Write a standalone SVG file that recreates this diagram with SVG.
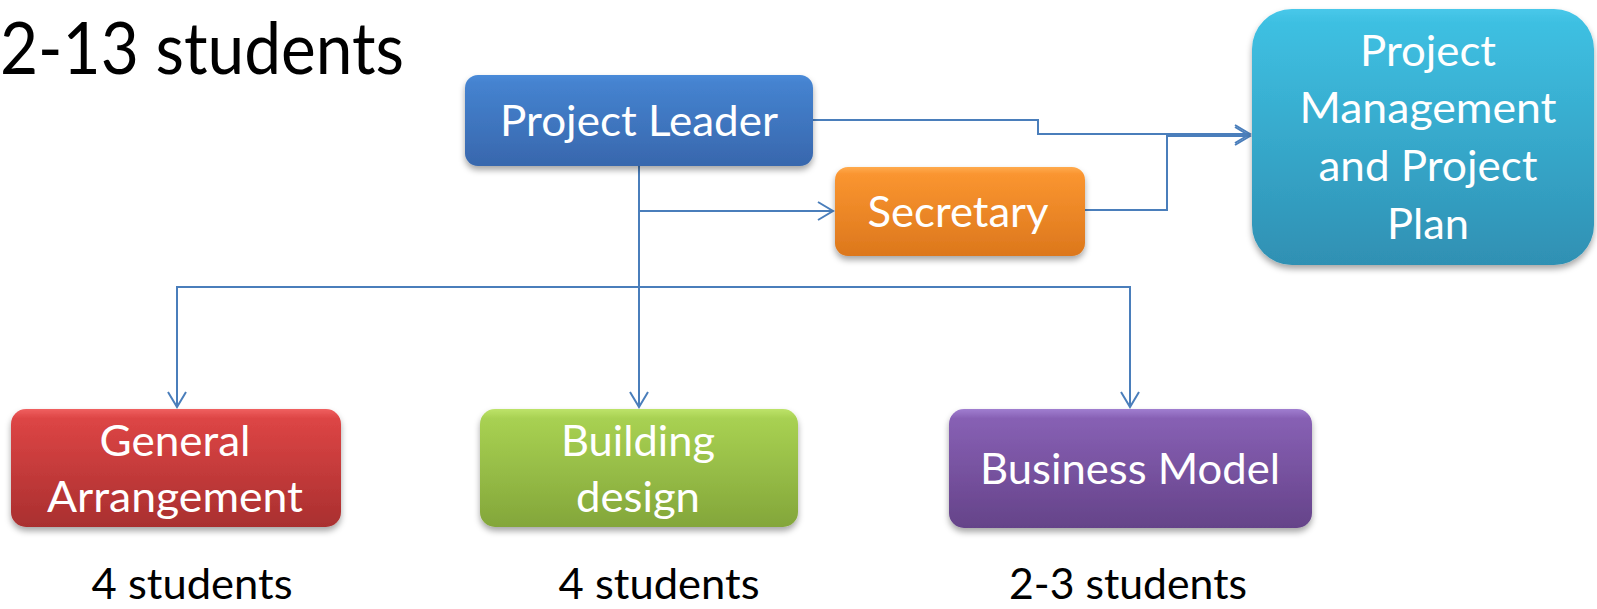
<svg xmlns="http://www.w3.org/2000/svg" width="1597" height="609" viewBox="0 0 1597 609">
<style>
.lbl{font-family:Lato,"Liberation Sans",sans-serif;font-size:42px;fill:#ffffff;text-anchor:middle}
.blk{font-family:Lato,"Liberation Sans",sans-serif;font-size:43px;fill:#000000;text-anchor:middle}
.title{font-family:Lato,"Liberation Sans",sans-serif;font-size:72px;fill:#000000}
.conn{fill:none;stroke:#4a7ebb;stroke-width:2}
</style>
<defs>
<linearGradient id="gBlue" x1="0" y1="0" x2="0" y2="1"><stop offset="0" stop-color="#4a8bd9"/><stop offset="0.08" stop-color="#4583d0"/><stop offset="1" stop-color="#3867ad"/></linearGradient>
<linearGradient id="gOrange" x1="0" y1="0" x2="0" y2="1"><stop offset="0" stop-color="#ffab4e"/><stop offset="0.08" stop-color="#fa9530"/><stop offset="1" stop-color="#dc771c"/></linearGradient>
<linearGradient id="gCyan" x1="0" y1="0" x2="0" y2="1"><stop offset="0" stop-color="#48c8ea"/><stop offset="0.05" stop-color="#3ec0e2"/><stop offset="1" stop-color="#2f90b3"/></linearGradient>
<linearGradient id="gRed" x1="0" y1="0" x2="0" y2="1"><stop offset="0" stop-color="#f06060"/><stop offset="0.08" stop-color="#dd4545"/><stop offset="1" stop-color="#a92f2f"/></linearGradient>
<linearGradient id="gGreen" x1="0" y1="0" x2="0" y2="1"><stop offset="0" stop-color="#bde36a"/><stop offset="0.08" stop-color="#a8d152"/><stop offset="1" stop-color="#83a63a"/></linearGradient>
<linearGradient id="gPurple" x1="0" y1="0" x2="0" y2="1"><stop offset="0" stop-color="#a07ed0"/><stop offset="0.08" stop-color="#8760b4"/><stop offset="1" stop-color="#654389"/></linearGradient>
<filter id="sh" x="-10%" y="-10%" width="120%" height="130%"><feDropShadow dx="0" dy="4" stdDeviation="3" flood-color="#000" flood-opacity="0.35"/></filter>
<marker id="arr" viewBox="-18 -12 20 24" refX="0" refY="0" markerWidth="20" markerHeight="24" markerUnits="userSpaceOnUse" orient="auto"><path d="M-15,-9 L0,0 L-15,9" fill="none" stroke="#4a7ebb" stroke-width="2"/></marker>
</defs>
<text class="title" x="0" y="74" textLength="404" lengthAdjust="spacingAndGlyphs">2-13 students</text>
<g id="connectors">
<path class="conn" d="M813,120 H1038 V134 H1250" marker-end="url(#arr)"/>
<path class="conn" d="M1085,210 H1167 V136 H1250" marker-end="url(#arr)"/>
<path class="conn" d="M639,211 H833" marker-end="url(#arr)"/>
<path class="conn" d="M639,166 V407" marker-end="url(#arr)"/>
<path class="conn" d="M639,287 H177 V407" marker-end="url(#arr)"/>
<path class="conn" d="M639,287 H1130 V407" marker-end="url(#arr)"/>
</g>
<g id="project-leader">
<rect x="465" y="75" width="348" height="91" rx="13" fill="url(#gBlue)" filter="url(#sh)"/>
<text class="lbl" x="639" y="136" textLength="278" lengthAdjust="spacingAndGlyphs">Project Leader</text>
</g>
<g id="secretary">
<rect x="835" y="167" width="250" height="89" rx="13" fill="url(#gOrange)" filter="url(#sh)"/>
<text class="lbl" x="958" y="227" textLength="181" lengthAdjust="spacingAndGlyphs">Secretary</text>
</g>
<g id="project-management">
<rect x="1252" y="9" width="342" height="256" rx="40" fill="url(#gCyan)" filter="url(#sh)"/>
<text class="lbl" x="1428" y="66" textLength="136" lengthAdjust="spacingAndGlyphs">Project</text>
<text class="lbl" x="1428" y="123" textLength="257" lengthAdjust="spacingAndGlyphs">Management</text>
<text class="lbl" x="1428" y="181" textLength="219" lengthAdjust="spacingAndGlyphs">and Project</text>
<text class="lbl" x="1428" y="239" textLength="82" lengthAdjust="spacingAndGlyphs">Plan</text>
</g>
<g id="general-arrangement">
<rect x="11" y="409" width="330" height="118" rx="15" fill="url(#gRed)" filter="url(#sh)"/>
<text class="lbl" x="175" y="456" textLength="151" lengthAdjust="spacingAndGlyphs">General</text>
<text class="lbl" x="175" y="512" textLength="256" lengthAdjust="spacingAndGlyphs">Arrangement</text>
</g>
<g id="building-design">
<rect x="480" y="409" width="318" height="118" rx="15" fill="url(#gGreen)" filter="url(#sh)"/>
<text class="lbl" x="638" y="456" textLength="154" lengthAdjust="spacingAndGlyphs">Building</text>
<text class="lbl" x="638" y="512" textLength="124" lengthAdjust="spacingAndGlyphs">design</text>
</g>
<g id="business-model">
<rect x="949" y="409" width="363" height="119" rx="15" fill="url(#gPurple)" filter="url(#sh)"/>
<text class="lbl" x="1130" y="484" textLength="300" lengthAdjust="spacingAndGlyphs">Business Model</text>
</g>
<g id="labels">
<text class="blk" x="192" y="599" textLength="201" lengthAdjust="spacingAndGlyphs">4 students</text>
<text class="blk" x="659" y="599" textLength="201" lengthAdjust="spacingAndGlyphs">4 students</text>
<text class="blk" x="1128" y="599" textLength="238" lengthAdjust="spacingAndGlyphs">2-3 students</text>
</g>
</svg>
